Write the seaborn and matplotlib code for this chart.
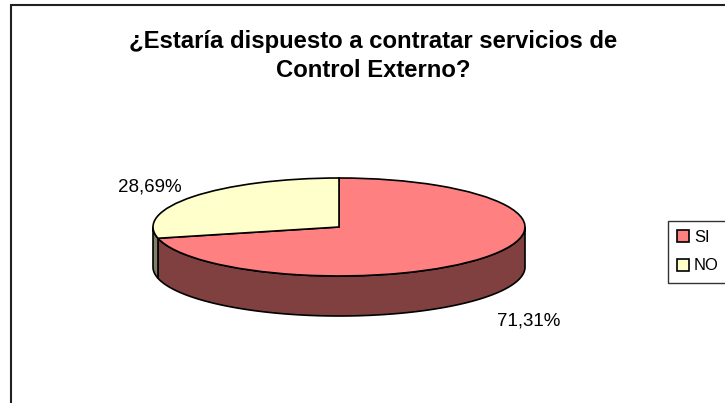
import numpy as np
import matplotlib
matplotlib.use("Agg")
import matplotlib.pyplot as plt
from matplotlib.patches import Polygon, Rectangle
import seaborn as sns

# datos
categorias = ['SI', 'NO']
porcentajes = [71.31, 28.69]
etiquetas = ['71,31%', '28,69%']
colores_sup = ['#FF8080', '#FFFFCC']
colores_lado = ['#804040', '#808066']
titulo = '¿Estaría dispuesto a contratar servicios de\nControl Externo?'

sns.set_theme(style='white')
plt.rcParams['font.family'] = ['Liberation Sans', 'DejaVu Sans']
plt.rcParams['text.color'] = 'black'

W, H = 725, 403
fig = plt.figure(figsize=(W / 100, H / 100), dpi=100)
fig.patch.set_facecolor('white')

# marco del gráfico (se corta a la derecha y abajo)
fig.add_artist(Rectangle((11 / W, -0.1), 1.2, (H - 5) / H + 0.1,
                         transform=fig.transFigure, fill=False,
                         edgecolor='#202020', lw=1.5))

# geometría de la torta 3D (pixeles)
cx, cy, rx, ry = 339, 227, 186, 49
a, b = 1.4, 2.2
prof = 40 / ry
ax = fig.add_axes([(cx - a * rx) / W, (H - (cy + b * ry)) / H,
                   2 * a * rx / W, 2 * b * ry / H])

wedges, _ = ax.pie(porcentajes, colors=colores_sup, startangle=90,
                   counterclock=False,
                   wedgeprops=dict(edgecolor='black', linewidth=1.2, zorder=3))
ax.set_aspect('auto')
ax.set_xlim(-a, a)
ax.set_ylim(-b, b)
ax.axis('off')

# paredes laterales
for w, c in zip(wedges, colores_lado):
    t = np.linspace(w.theta1, w.theta2, 600)
    t = t[np.sin(np.radians(t)) <= 0]
    if len(t) < 2:
        continue
    x = np.cos(np.radians(t))
    y = np.sin(np.radians(t))
    pts = np.column_stack([np.r_[x, x[::-1]], np.r_[y, y[::-1] - prof]])
    ax.add_patch(Polygon(pts, closed=True, facecolor=c, edgecolor='black',
                         lw=1.2, zorder=1))

# etiquetas de porcentaje
for w, txt in zip(wedges, etiquetas):
    m = np.radians((w.theta1 + w.theta2) / 2)
    x = 1.3 * np.cos(m)
    y = 1.3 * np.sin(m)
    if y < 0:
        y = y - prof - 0.3
    ax.text(x, y, txt, ha='center', va='center', fontsize=13.5, color='black')

# título
fig.text(373 / W, 1 - 56 / H, titulo, ha='center', va='center',
         fontsize=17.2, fontweight='bold', linespacing=1.3, color='black')

# leyenda
leg = fig.legend(wedges, categorias, loc='upper left',
                 bbox_to_anchor=(668 / W, 1 - 221 / H), frameon=True,
                 fancybox=False, fontsize=12, handlelength=0.7,
                 handleheight=0.7, handletextpad=0.3, labelspacing=0.8,
                 borderpad=0.55, borderaxespad=0, labelcolor='black')
leg.get_frame().set_edgecolor('black')
leg.get_frame().set_linewidth(1)

fig.savefig('out.png', dpi=100, facecolor='white')
